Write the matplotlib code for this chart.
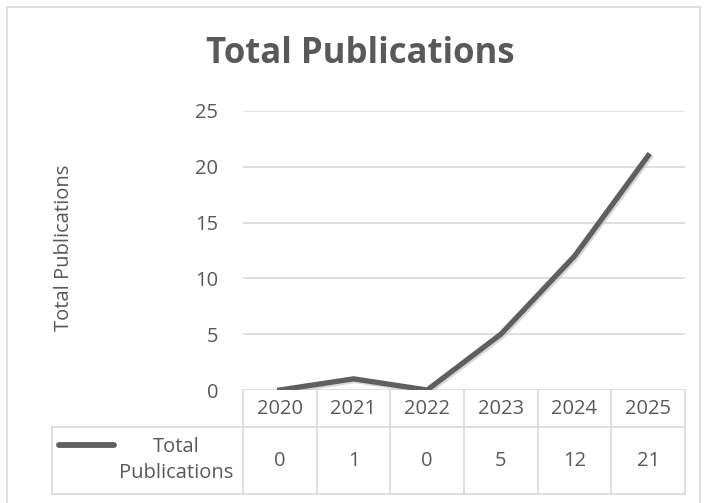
import matplotlib
matplotlib.use("Agg")
import matplotlib.pyplot as plt
from matplotlib.lines import Line2D
from matplotlib.patches import Rectangle
import matplotlib.patheffects as pe

years = ["2020", "2021", "2022", "2023", "2024", "2025"]
values = [0, 1, 0, 5, 12, 21]
series_name = "Total Publications"
title = "Total Publications"
y_ticks = [0, 5, 10, 15, 20, 25]

W, H = 706, 503
plt.rcParams['font.family'] = ['Open Sans', 'DejaVu Sans']
TXT = "#595959"
GRID = "#d9d9d9"
LINE = "#5f5f5f"
FS = 14.5

fig = plt.figure(figsize=(W / 100, H / 100), dpi=100)

def fx(x):
    return x / W

def fy(y):
    return 1 - y / H

# axes position in pixels
ax_l, ax_r, ax_t, ax_b = 243, 685, 111, 390
ax = fig.add_axes([fx(ax_l), fy(ax_b), fx(ax_r) - fx(ax_l), fy(ax_t) - fy(ax_b)])
x = list(range(len(years)))
ax.plot(x, values, color=LINE, lw=3.8, solid_joinstyle='miter', zorder=3,
        path_effects=[pe.SimpleLineShadow(offset=(1.2, -1.2), shadow_color='#bbbbbb', alpha=0.6),
                      pe.Normal()])
ax.set_xlim(-0.5, len(years) - 0.5)
ax.set_ylim(0, 25)
ax.set_yticks(y_ticks)
ax.set_xticks([])
for s in ax.spines.values():
    s.set_visible(False)
ax.grid(axis='y', color=GRID, lw=1.2)
ax.set_axisbelow(True)
ax.tick_params(axis='y', length=0, pad=18, labelsize=FS, labelcolor=TXT)
ax.patch.set_alpha(0)

# y label
fig.text(fx(64), fy(248), series_name, rotation=90, ha='center', va='center',
         fontsize=FS, color=TXT)
# title
fig.text(fx(360), fy(54), title, ha='center', va='center', fontsize=25,
         fontweight='bold', color=TXT)

# outer border
fig.add_artist(Rectangle((fx(7), fy(510)), fx(700) - fx(7), fy(7) - fy(510),
                         fill=False, edgecolor=GRID, lw=1.2, transform=fig.transFigure))

# data table
hdr_t, hdr_b, row_b = 390, 427, 494
tbl_l = 52
cw = (ax_r - ax_l) / len(years)
def hline(x0, x1, y):
    fig.add_artist(Line2D([fx(x0), fx(x1)], [fy(y), fy(y)], color=GRID, lw=1.2,
                          transform=fig.transFigure))
def vline(xx, y0, y1):
    fig.add_artist(Line2D([fx(xx), fx(xx)], [fy(y0), fy(y1)], color=GRID, lw=1.2,
                          transform=fig.transFigure))
hline(tbl_l, ax_r, hdr_b)
hline(tbl_l, ax_r, row_b)
vline(tbl_l, hdr_b, row_b)
for i in range(len(years) + 1):
    vline(ax_l + i * cw, hdr_t, row_b)
for i, (yr, v) in enumerate(zip(years, values)):
    cx = ax_l + (i + 0.5) * cw
    fig.text(fx(cx), fy(409), yr, ha='center', va='center',
             fontsize=FS, color=TXT)
    fig.text(fx(cx), fy(461), str(v), ha='center', va='center',
             fontsize=FS, color=TXT)
# legend key
fig.add_artist(Line2D([fx(59), fx(114)], [fy(445), fy(445)], color=LINE, lw=4.2,
                      solid_capstyle='round', transform=fig.transFigure))
fig.text(fx(176), fy(460), "Total\nPublications", ha='center', va='center',
         fontsize=FS, color=TXT, linespacing=1.4)

fig.savefig("out.png", dpi=100)
